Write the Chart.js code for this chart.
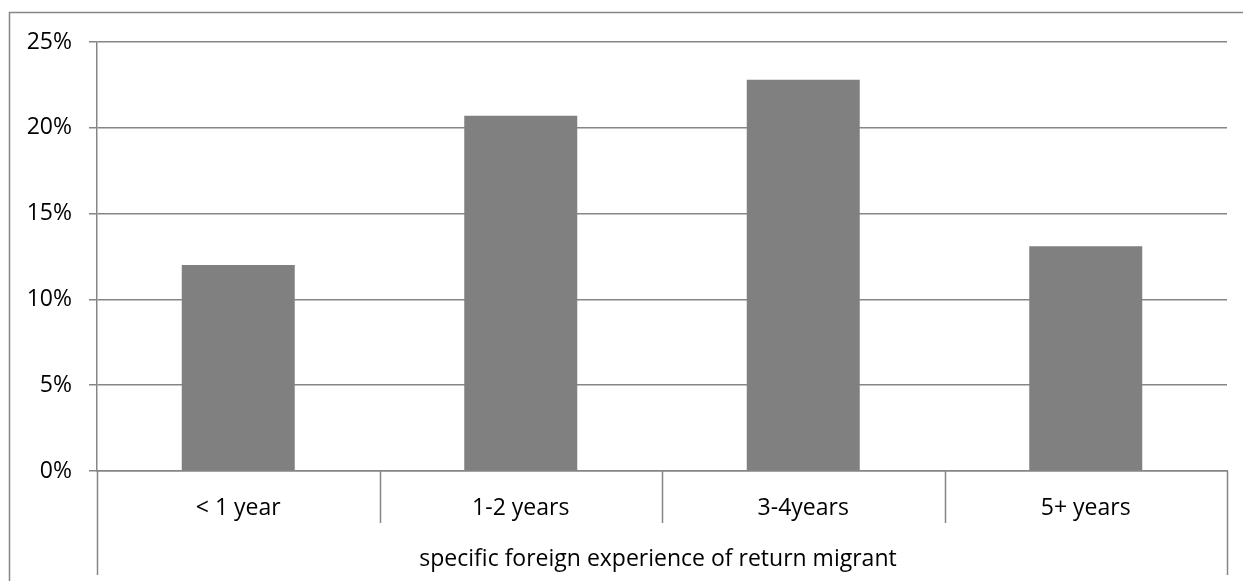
<!DOCTYPE html>
<html>
<head>
<meta charset="utf-8">
<script src="https://cdn.jsdelivr.net/npm/chart.js@4"></script>
<style>
  html, body { margin: 0; padding: 0; background: #fff; }
  #wrap { width: 1243px; height: 581px; }
</style>
</head>
<body>
<div id="wrap"><canvas id="c" width="1243" height="581"></canvas></div>
<script>
const categories = ['< 1 year', '1-2 years', '3-4years', '5+ years'];
const shares = [12.0, 20.7, 22.8, 13.1];
const yTickValues = [0, 5, 10, 15, 20, 25];
const groupLabel = 'specific foreign experience of return migrant';

const LINE = '#868686';
const FONT = "'Open Sans', 'Noto Sans', sans-serif";

// outer frame + two-level category axis (separators and group label)
const excelAxis = {
  id: 'excelAxis',
  beforeDraw(chart) {
    const ctx = chart.ctx;
    ctx.save();
    ctx.strokeStyle = LINE;
    ctx.lineWidth = 1.5;
    ctx.beginPath();
    ctx.moveTo(9.5, chart.height + 2);
    ctx.lineTo(9.5, 12.5);
    ctx.lineTo(chart.width + 2, 12.5);
    ctx.stroke();
    ctx.restore();
  },
  afterDraw(chart) {
    const ctx = chart.ctx;
    const area = chart.chartArea;
    const step = (area.right - area.left) / categories.length;
    ctx.save();
    ctx.strokeStyle = LINE;
    ctx.lineWidth = 1.5;
    ctx.beginPath();
    for (let i = 0; i <= categories.length; i++) {
      const px = Math.round(area.left + step * i) + 0.5;
      const edge = i === 0 || i === categories.length;
      ctx.moveTo(px, area.bottom);
      ctx.lineTo(px, edge ? area.bottom + 104 : area.bottom + 52);
    }
    ctx.stroke();
    ctx.fillStyle = '#000';
    ctx.font = '23px ' + FONT;
    ctx.textAlign = 'center';
    ctx.textBaseline = 'middle';
    ctx.fillText(groupLabel, (area.left + area.right) / 2 - 4, area.bottom + 88);
    ctx.restore();
  }
};

new Chart(document.getElementById('c'), {
  type: 'bar',
  data: {
    labels: categories,
    datasets: [{
      data: shares,
      backgroundColor: '#808080',
      borderWidth: 0,
      barPercentage: 0.4,
      categoryPercentage: 1.0
    }]
  },
  options: {
    responsive: false,
    animation: false,
    layout: { padding: { top: 42, right: 16, bottom: 0, left: 0 } },
    plugins: {
      legend: { display: false },
      tooltip: { enabled: false }
    },
    scales: {
      x: {
        grid: { display: false },
        border: { color: LINE, width: 1.5 },
        ticks: {
          color: '#000',
          font: { family: FONT, size: 23 },
          padding: 16,
          maxRotation: 0
        },
        afterFit(scale) { scale.height = 110; }
      },
      y: {
        min: 0,
        max: 25,
        afterBuildTicks(scale) {
          scale.ticks = yTickValues.map(v => ({ value: v }));
        },
        grid: {
          color: LINE,
          lineWidth: 1.5,
          tickLength: 8
        },
        border: { color: LINE, width: 1.5 },
        ticks: {
          color: '#000',
          font: { family: FONT, size: 23 },
          padding: 17,
          callback: v => v + '%'
        },
        afterFit(scale) { scale.width = 97; }
      }
    }
  },
  plugins: [excelAxis]
});
</script>
</body>
</html>
